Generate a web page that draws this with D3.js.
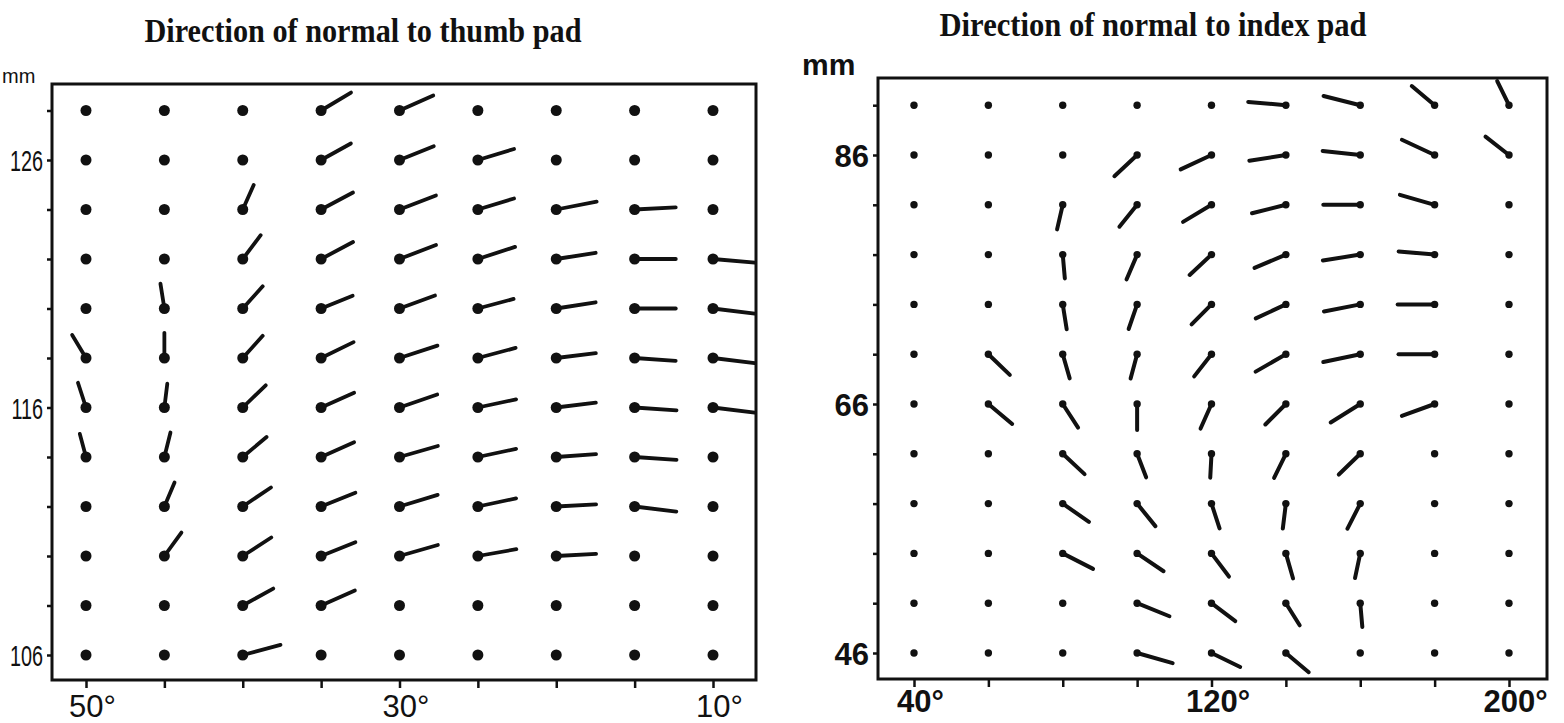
<!DOCTYPE html>
<html>
<head>
<meta charset="utf-8">
<script src="https://cdn.jsdelivr.net/npm/d3@7"></script>
<style>
  body { margin: 0; background: #fff; }
  svg { display: block; }
</style>
</head>
<body>
<script>
// grid of the thumb pad panel
const thumbCols = [50, 45, 40, 35, 30, 25, 20, 15, 10];
const thumbRows = [128, 126, 124, 122, 120, 118, 116, 114, 112, 110, 108, 106];
const thumbXLabels = [50, 30, 10];
const thumbYLabels = [106, 116, 126];
// [direction in degrees, projected length 0..1], null = normal points straight out
const thumbNormals = [
  [null, null, null, [31, .83], [24, .88], null, null, null, null],
  [null, null, null, [29, .81], [22, .88], [17, .9], null, null, null],
  [null, null, [66, .64], [28, .86], [21, .93], [17, .9], [11, .98], [3, .98], null],
  [null, null, [53, .71], [28, .86], [21, .93], [18, .93], [9, .95], [0, .98], [-5, 1]],
  [null, [99, .6], [48, .71], [22, .81], [20, .9], [15, .88], [9, .95], [0, .98], [-7, 1]],
  [[121, .64], [90, .6], [48, .71], [26, .86], [18, .95], [15, .93], [7, .95], [-4, .98], [-7, 1]],
  [[108, .62], [83, .57], [44, .76], [24, .86], [19, .95], [12, .93], [7, .95], [-4, 1], [-7, 1]],
  [[105, .57], [76, .6], [40, .74], [24, .86], [16, .95], [12, .93], [4, .95], [-4, 1], null],
  [null, [67, .62], [34, .81], [22, .88], [17, .95], [12, .93], [3, .95], [-7, 1], null],
  [null, [54, .69], [33, .81], [22, .88], [16, .95], [10, .93], [3, .95], null, null],
  [null, null, [29, .83], [24, .88], null, null, null, null, null],
  [null, null, [15, .93], null, null, null, null, null, null]
];

// grid of the index pad panel
const indexCols = [40, 60, 80, 100, 120, 140, 160, 180, 200];
const indexRows = [90, 86, 82, 78, 74, 70, 66, 62, 58, 54, 50, 46];
const indexXLabels = [40, 120, 200];
const indexYLabels = [46, 66, 86];
const indexNormals = [
  [null, null, null, null, null, [175, .9], [166, .9], [140, .71], [116, .64]],
  [null, null, null, [223, .74], [205, .81], [189, .88], [174, .9], [155, .86], [142, .71]],
  [null, null, [257, .6], [231, .67], [211, .79], [194, .83], [180, .88], [164, .86], null],
  [null, null, [275, .57], [247, .64], [223, .71], [203, .81], [189, .9], [175, .86], null],
  [null, null, [279, .6], [251, .62], [225, .67], [205, .79], [191, .88], [180, .88], null],
  [null, [-44, .71], [-74, .6], [255, .6], [232, .67], [210, .83], [192, .9], [180, .86], null],
  [null, [-40, .74], [-57, .67], [270, .62], [246, .64], [225, .69], [212, .83], [200, .83], null],
  [null, null, [-43, .71], [-69, .6], [267, .57], [244, .64], [224, .71], null, null],
  [null, null, [-35, .76], [-51, .69], [-72, .62], [263, .6], [243, .67], null, null],
  [null, null, [-27, .81], [-34, .76], [-53, .69], [-74, .62], [258, .6], null, null],
  [null, null, null, [-22, .83], [-37, .71], [-58, .62], [-85, .57], null, null],
  [null, null, null, [-16, .88], [-26, .76], [-40, .71], null, null, null]
];

const W = 1564, H = 723;
const svg = d3.select("body").append("svg")
  .attr("width", W).attr("height", H);

function panel(p) {
  const x = d3.scaleLinear().domain(p.xDomain).range(p.xRange);
  const y = d3.scaleLinear().domain(p.yDomain).range(p.yRange);
  const len = d3.scaleLinear().domain([0, 1]).range([0, 42]);
  const g = svg.append("g");

  const pts = [];
  p.rows.forEach((r, i) => p.cols.forEach((c, j) => {
    pts.push({ c: c, r: r, n: p.normals[i][j] });
  }));

  g.selectAll("line.n")
    .data(pts.filter(d => d.n))
    .enter().append("line")
    .attr("class", "n")
    .attr("x1", d => x(d.c))
    .attr("y1", d => y(d.r))
    .attr("x2", d => x(d.c) + len(d.n[1]) * Math.cos(d.n[0] * Math.PI / 180))
    .attr("y2", d => y(d.r) - len(d.n[1]) * Math.sin(d.n[0] * Math.PI / 180))
    .attr("stroke", "#111")
    .attr("stroke-width", p.lineW)
    .attr("stroke-linecap", "round");

  g.selectAll("circle")
    .data(pts)
    .enter().append("circle")
    .attr("cx", d => x(d.c))
    .attr("cy", d => y(d.r))
    .attr("r", p.dotR)
    .attr("fill", "#111");

  g.append("rect")
    .attr("x", p.frame[0]).attr("y", p.frame[2])
    .attr("width", p.frame[1] - p.frame[0])
    .attr("height", p.frame[3] - p.frame[2])
    .attr("fill", "none")
    .attr("stroke", "#111")
    .attr("stroke-width", 3);

  const yAxis = g.append("g")
    .attr("transform", "translate(" + p.frame[0] + ",0)")
    .call(d3.axisLeft(y).tickValues(p.rows).tickSize(5).tickPadding(4)
      .tickFormat(d => p.yLabels.includes(d) ? d : ""));
  yAxis.select(".domain").remove();
  yAxis.selectAll("line").attr("stroke", "#111").attr("stroke-width", 2.5);
  yAxis.selectAll("text")
    .attr("fill", "#111")
    .attr("font-family", "'Liberation Sans', Arial, sans-serif")
    .attr("font-size", p.yFontSize)
    .attr("font-weight", p.weight)
    .attr("dy", "0.36em");
  if (p.yNarrow) {
    // the thumb panel prints its mm values in a condensed face
    yAxis.selectAll("text")
      .attr("x", -9 / p.yNarrow)
      .attr("transform", "scale(" + p.yNarrow + ",1)");
  }

  const xAxis = g.append("g")
    .attr("transform", "translate(0," + p.frame[3] + ")")
    .call(d3.axisBottom(x).tickValues(p.cols).tickSize(8)
      .tickFormat(d => p.xLabels.includes(d) ? d + "°" : ""));
  xAxis.select(".domain").remove();
  xAxis.selectAll("line").attr("stroke", "#111").attr("stroke-width", 2.5);
  xAxis.selectAll("text")
    .attr("fill", "#111")
    .attr("font-family", "'Liberation Sans', Arial, sans-serif")
    .attr("font-size", 31)
    .attr("font-weight", p.weight)
    .attr("y", p.xLabelY)
    .attr("dy", 0)
    .attr("dx", 6);

  svg.append("text")
    .attr("x", p.title.x).attr("y", p.title.y)
    .attr("text-anchor", "middle")
    .attr("font-family", "'Liberation Serif', 'DejaVu Serif', serif")
    .attr("font-weight", "bold")
    .attr("font-size", 33)
    .attr("textLength", p.title.w)
    .attr("lengthAdjust", "spacingAndGlyphs")
    .attr("fill", "#111")
    .text(p.title.text);

  svg.append("text")
    .attr("x", p.unit.x).attr("y", p.unit.y)
    .attr("text-anchor", "start")
    .attr("font-family", "'Liberation Sans', Arial, sans-serif")
    .attr("font-size", p.unit.size)
    .attr("font-weight", p.weight)
    .attr("fill", "#111")
    .text("mm");
}

panel({
  cols: thumbCols, rows: thumbRows, normals: thumbNormals,
  xLabels: thumbXLabels, yLabels: thumbYLabels,
  xDomain: [50, 10], xRange: [86, 713],
  yDomain: [106, 126], yRange: [655, 160],
  frame: [52, 756, 84, 680],
  dotR: 5.5, lineW: 3.8, weight: "normal",
  yFontSize: 30, yNarrow: 0.66,
  xLabelY: 37,
  title: { text: "Direction of normal to thumb pad", x: 363, y: 42, w: 437 },
  unit: { x: 2, y: 83, size: 20 }
});

panel({
  cols: indexCols, rows: indexRows, normals: indexNormals,
  xLabels: indexXLabels, yLabels: indexYLabels,
  xDomain: [40, 200], xRange: [914, 1509],
  yDomain: [46, 86], yRange: [653, 155],
  frame: [878, 1547, 78, 679],
  dotR: 3.7, lineW: 4, weight: "bold",
  yFontSize: 31, yNarrow: 0,
  xLabelY: 33,
  title: { text: "Direction of normal to index pad", x: 1153, y: 36, w: 427 },
  unit: { x: 802, y: 75, size: 30 }
});
</script>
</body>
</html>
